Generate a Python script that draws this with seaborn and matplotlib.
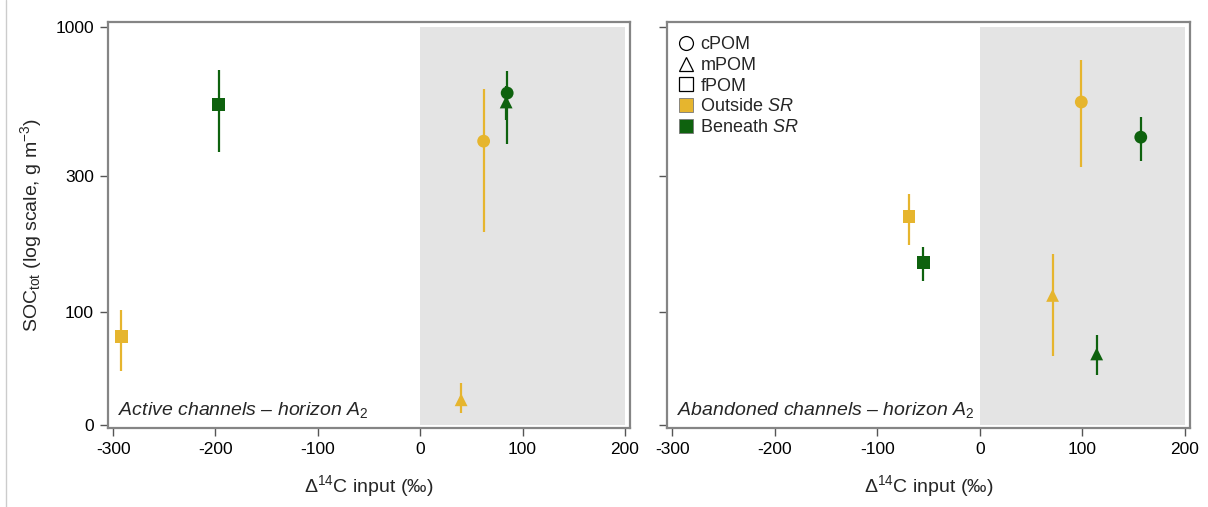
import matplotlib
matplotlib.use("Agg")
import matplotlib.pyplot as plt
import seaborn as sns
import pandas as pd
from matplotlib.lines import Line2D

# ---- data ----
fractions = ["fPOM", "fPOM", "cPOM", "cPOM", "mPOM", "mPOM"]
positions = ["Outside", "Beneath", "Outside", "Beneath", "Outside", "Beneath"]

active_x = [-292, -197, 62, 85, 40, 84]
active_y = [82, 535, 397, 586, 49, 545]
active_lo = [62, 363, 190, 387, 44, 470]
active_hi = [101, 706, 605, 700, 56, 620]

aband_x = [-69, -55, 99, 157, 71, 114]
aband_y = [216, 149, 545, 410, 114, 71]
aband_lo = [172, 128, 321, 338, 70, 60]
aband_hi = [258, 168, 765, 482, 159, 83]

panel_titles = ["Active channels – horizon $A_2$", "Abandoned channels – horizon $A_2$"]
y_ticks = [40, 100, 300, 1000]
y_ticklabels = ["0", "100", "300", "1000"]
x_ticks = [-300, -200, -100, 0, 100, 200]

colors = {"Outside": "#E6B52E", "Beneath": "#0E620E"}
markers = {"cPOM": "o", "mPOM": "^", "fPOM": "s"}

sns.set_style("white")
plt.rcParams["font.family"] = ["Liberation Sans", "DejaVu Sans"]
plt.rcParams["mathtext.fontset"] = "custom"
plt.rcParams["mathtext.rm"] = "Liberation Sans"
plt.rcParams["mathtext.it"] = "Liberation Sans:italic"
plt.rcParams["mathtext.bf"] = "Liberation Sans:bold"

W, H = 1208, 507
fig = plt.figure(figsize=(W / 100, H / 100), dpi=100)
ax1 = fig.add_axes([108 / W, 1 - 428 / H, 522 / W, 406 / H])
ax2 = fig.add_axes([667 / W, 1 - 428 / H, 523 / W, 406 / H])

datasets = [(active_x, active_y, active_lo, active_hi),
            (aband_x, aband_y, aband_lo, aband_hi)]

for i, (ax, (xs, ys, lo, hi)) in enumerate(zip([ax1, ax2], datasets)):
    df = pd.DataFrame({"x": xs, "y": ys, "lo": lo, "hi": hi,
                       "fraction": fractions, "position": positions})
    ax.set_yscale("log")
    ax.fill_between([0, 200], 40, 1000, color="#E4E4E4", zorder=0, linewidth=0)
    for _, r in df.iterrows():
        ax.vlines(r["x"], r["lo"], r["hi"], color=colors[r["position"]], lw=1.6, zorder=2)
    sns.scatterplot(data=df, x="x", y="y", hue="position", style="fraction",
                    palette=colors, markers=markers, s=85, linewidth=0,
                    ax=ax, legend=False, zorder=3)
    ax.set_xlim(-305, 205)
    ax.set_ylim(39, 1041)
    ax.set_xticks(x_ticks)
    ax.set_xticklabels([str(t) for t in x_ticks])
    ax.set_yticks(y_ticks)
    ax.yaxis.set_minor_locator(matplotlib.ticker.NullLocator())
    if i == 0:
        ax.set_yticklabels(y_ticklabels)
        ax.set_ylabel("SOC$_{\\rm tot}$ (log scale, g m$^{-3}$)", fontsize=14, labelpad=8)
    else:
        ax.set_yticklabels([])
        ax.set_ylabel("")
    ax.set_xlabel("Δ$^{14}$C input (‰)", fontsize=14, labelpad=12)
    ax.tick_params(axis="both", which="major", direction="out", length=6, width=1,
                   color="#555555", labelsize=12.5, labelcolor="black", pad=4,
                   left=True, bottom=True)
    for s in ax.spines.values():
        s.set_color("#858585")
        s.set_linewidth(1.6)
    ax.text(0.02, 0.02, panel_titles[i], transform=ax.transAxes, style="italic",
            fontsize=14, ha="left", va="bottom")

handles = [
    Line2D([], [], marker="o", linestyle="", markerfacecolor="white", markeredgecolor="black", markersize=10, markeredgewidth=0.9),
    Line2D([], [], marker="^", linestyle="", markerfacecolor="white", markeredgecolor="black", markersize=10, markeredgewidth=0.9),
    Line2D([], [], marker="s", linestyle="", markerfacecolor="white", markeredgecolor="black", markersize=10, markeredgewidth=0.9),
    Line2D([], [], marker="s", linestyle="", markerfacecolor=colors["Outside"], markeredgecolor="#777777", markersize=10, markeredgewidth=0.6),
    Line2D([], [], marker="s", linestyle="", markerfacecolor=colors["Beneath"], markeredgecolor="#777777", markersize=10, markeredgewidth=0.6),
]
labels = ["cPOM", "mPOM", "fPOM", "Outside $\\it{SR}$", "Beneath $\\it{SR}$"]
ax2.legend(handles, labels, loc="upper left", bbox_to_anchor=(-0.012, 1.0), frameon=False,
           fontsize=13, handletextpad=0.2, labelspacing=0.2, borderpad=0.3, handlelength=1.2)

fig.add_artist(Line2D([6 / W, 6 / W], [0, 1], color="#CCCCCC", lw=1, transform=fig.transFigure))

fig.savefig("out.png", dpi=100)
